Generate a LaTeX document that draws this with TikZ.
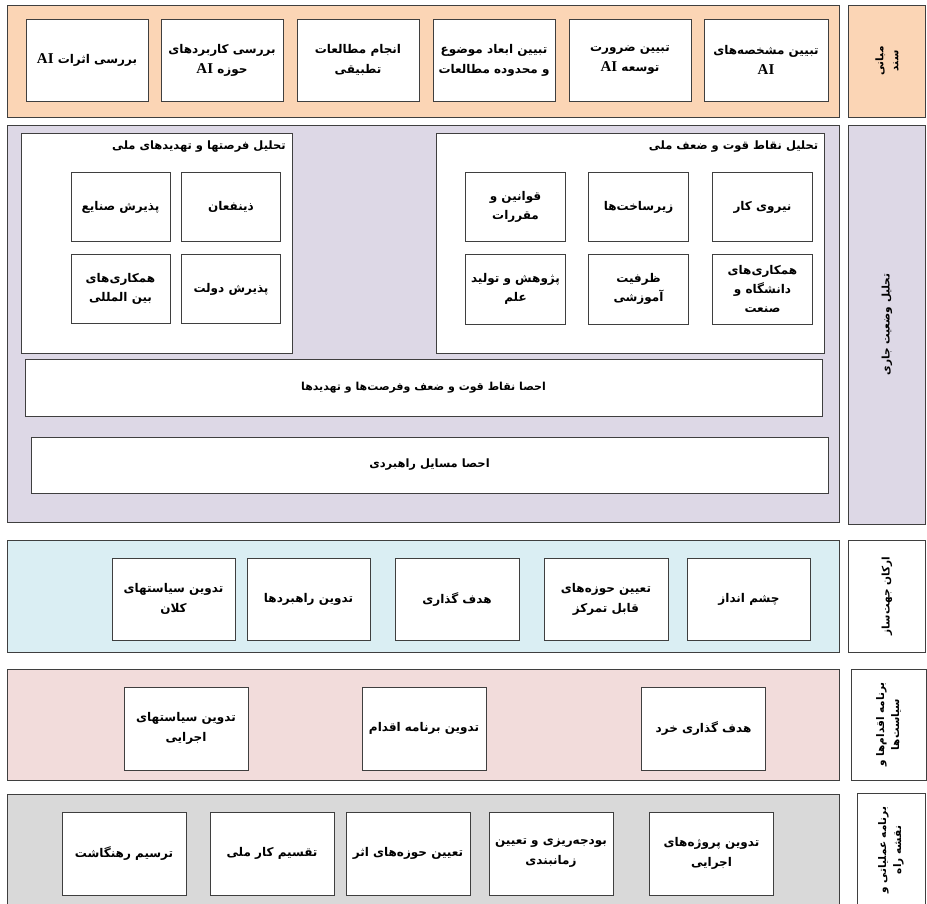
\documentclass[tikz,border=0pt]{standalone}
\usepackage{fontspec}
\newfontfamily\farsi[Script=Arabic]{DejaVu Sans}
\newfontfamily\latin{Liberation Serif}
\TeXXeTstate=1
\newcommand{\fa}[1]{\beginR #1\endR}
\newcommand{\ai}{\beginL{\latin\bfseries\fontsize{15}{15}\selectfont AI}\endL{}}
\definecolor{peach}{HTML}{FBD5B5}
\definecolor{lilac}{HTML}{DDD8E6}
\definecolor{skyband}{HTML}{DAEEF3}
\definecolor{roseband}{HTML}{F2DCDB}
\definecolor{greyband}{HTML}{D9D9D9}
\definecolor{edge}{HTML}{3F3F3F}
\begin{document}
\begin{tikzpicture}[x=1pt,y=-1pt,
    txt/.style={font=\farsi\bfseries\fontsize{12}{20}\selectfont},
    band/.style={draw=edge,line width=0.9pt,minimum width=832pt},
    side/.style={draw=edge,line width=0.9pt,rotate=90,align=center,inner sep=2pt,
        font=\farsi\bfseries\fontsize{10.5}{15}\selectfont},
    cell/.style={txt,draw=edge,fill=white,line width=0.6pt,align=center,
        minimum width=122pt,minimum height=82pt,inner sep=2pt},
    small/.style={minimum width=100pt,minimum height=69pt,
        font=\farsi\bfseries\fontsize{12}{19}\selectfont},
    panel/.style={draw=edge,fill=white,line width=0.6pt}]
    \useasboundingbox (0,0) rectangle (927,903);

    % Row 1: foundations
    \node[band,fill=peach,minimum height=112pt] (r1) at (423,61) {};
    \node[side,fill=peach,minimum width=112pt,minimum height=77pt] (s1) at (887,61) {\fa{مبانی}\\\fa{سند}};
    \node[cell] (a1) at (87,60) {\fa{بررسی اثرات \ai}};
    \node[cell] (a2) at (222,60) {\fa{بررسی کاربردهای}\\\fa{حوزه \ai}};
    \node[cell] (a3) at (358,60) {\fa{انجام مطالعات}\\\fa{تطبیقی}};
    \node[cell] (a4) at (494,60) {\fa{تبیین ابعاد موضوع}\\\fa{و محدوده مطالعات}};
    \node[cell] (a5) at (630,60) {\fa{تبیین ضرورت}\\\fa{توسعه \ai}};
    \node[cell,minimum width=124pt] (a6) at (766,60) {\fa{تبیین مشخصه^^^^200cهای}\\\ai};

    % Row 2: current situation
    \node[band,fill=lilac,minimum height=397pt] (r2) at (423,323.5) {};
    \node[side,fill=lilac,minimum width=399pt,minimum height=77pt] (s2) at (887,324.5) {\fa{تحلیل وضعیت جاری}};
    \node[panel,minimum width=271pt,minimum height=220pt] (opp) at (156.5,243) {};
    \node[font=\farsi\bfseries\fontsize{11.5}{13}\selectfont,anchor=north east] (oppt) at ([xshift=-3pt,yshift=-5pt]opp.north east) {\fa{تحلیل فرصتها و تهدیدهای ملی}};
    \node[panel,minimum width=388pt,minimum height=220pt] (str) at (630.5,243) {};
    \node[font=\farsi\bfseries\fontsize{11.5}{13}\selectfont,anchor=north east] (strt) at ([xshift=-3pt,yshift=-5pt]str.north east) {\fa{تحلیل نقاط قوت و ضعف ملی}};
    \node[cell,small,minimum width=99pt] (o1) at (231,207) {\fa{ذینفعان}};
    \node[cell,small,minimum width=99pt] (o2) at (120.5,207) {\fa{پذیرش صنایع}};
    \node[cell,small,minimum width=99pt] (o3) at (231,289) {\fa{پذیرش دولت}};
    \node[cell,small,minimum width=99pt] (o4) at (120.5,289) {\fa{همکاری^^^^200cهای}\\\fa{بین المللی}};
    \node[cell,small] (w1) at (762.5,207) {\fa{نیروی کار}};
    \node[cell,small] (w2) at (638.5,207) {\fa{زیرساخت^^^^200cها}};
    \node[cell,small] (w3) at (515.5,207) {\fa{قوانین و}\\\fa{مقررات}};
    \node[cell,small,minimum height=70pt] (w4) at (762.5,289) {\fa{همکاری^^^^200cهای}\\\fa{دانشگاه و}\\\fa{صنعت}};
    \node[cell,small,minimum height=70pt] (w5) at (638.5,289) {\fa{ظرفیت}\\\fa{آموزشی}};
    \node[cell,small,minimum height=70pt] (w6) at (515.5,289) {\fa{پژوهش و تولید}\\\fa{علم}};
    \node[cell,font=\farsi\bfseries\fontsize{11}{14}\selectfont,minimum width=797pt,minimum height=57pt] (swot) at (423.5,387.5) {\fa{احصا نقاط قوت و ضعف وفرصت^^^^200cها و تهدیدها}};
    \node[cell,font=\farsi\bfseries\fontsize{11.5}{14}\selectfont,minimum width=797pt,minimum height=56pt] (iss) at (429.5,465) {\fa{احصا مسایل راهبردی}};

    % Row 3: directing elements
    \node[band,fill=skyband,minimum height=112pt] (r3) at (423,596) {};
    \node[side,fill=white,minimum width=112pt,minimum height=77pt] (s3) at (887,596) {\fa{ارکان جهت^^^^200cساز}};
    \node[cell,minimum width=123pt] (d1) at (749,599) {\fa{چشم انداز}};
    \node[cell,minimum width=124pt] (d2) at (606,599) {\fa{تعیین حوزه^^^^200cهای}\\\fa{قابل تمرکز}};
    \node[cell,minimum width=124pt] (d3) at (457,599) {\fa{هدف گذاری}};
    \node[cell,minimum width=123pt] (d4) at (308.5,599) {\fa{تدوین راهبردها}};
    \node[cell,minimum width=123pt] (d5) at (173.5,599) {\fa{تدوین سیاستهای}\\\fa{کلان}};

    % Row 4: action programs
    \node[band,fill=roseband,minimum height=111pt] (r4) at (423,724.5) {};
    \node[side,fill=white,minimum width=111pt,minimum height=75pt] (s4) at (888.5,724.5) {\fa{برنامه اقدام^^^^200cها و}\\\fa{سیاست^^^^200cها}};
    \node[cell,minimum width=124pt,minimum height=83pt] (p1) at (703.5,728.5) {\fa{هدف گذاری خرد}};
    \node[cell,minimum width=124pt,minimum height=83pt] (p2) at (424,728.5) {\fa{تدوین برنامه اقدام}};
    \node[cell,minimum width=124pt,minimum height=83pt] (p3) at (186,728.5) {\fa{تدوین سیاستهای}\\\fa{اجرایی}};

    % Row 5: operational plan
    \node[band,fill=greyband,minimum height=114pt] (r5) at (423,851) {};
    \node[side,fill=white,minimum width=114pt,minimum height=68pt] (s5) at (891,850) {\fa{برنامه عملیاتی و}\\\fa{نقشه راه}};
    \node[cell,minimum width=124pt,minimum height=83pt] (q1) at (711.5,853.5) {\fa{تدوین پروژه^^^^200cهای}\\\fa{اجرایی}};
    \node[cell,minimum width=124pt,minimum height=83pt] (q2) at (551,853.5) {\fa{بودجه^^^^200cریزی و تعیین}\\\fa{زمانبندی}};
    \node[cell,minimum width=124pt,minimum height=83pt] (q3) at (408,853.5) {\fa{تعیین حوزه^^^^200cهای اثر}};
    \node[cell,minimum width=124pt,minimum height=83pt] (q4) at (272,853.5) {\fa{تقسیم کار ملی}};
    \node[cell,minimum width=124pt,minimum height=83pt] (q5) at (124,853.5) {\fa{ترسیم رهنگاشت}};
\end{tikzpicture}
\end{document}
